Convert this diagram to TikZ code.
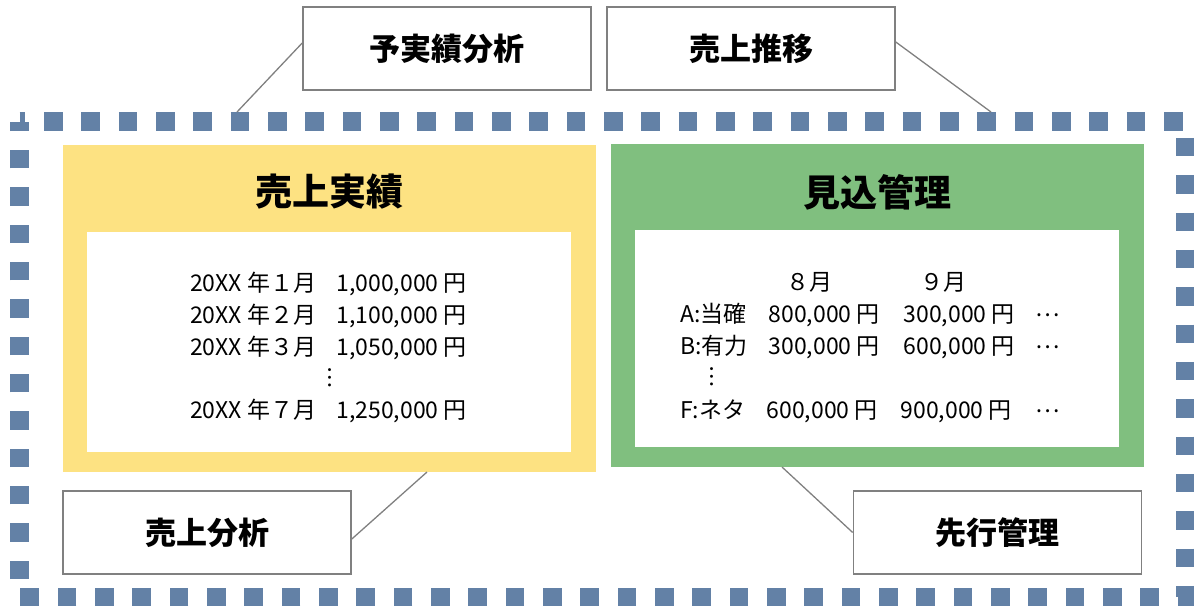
\documentclass[tikz,border=0pt]{standalone}
\usepackage{fontspec}
\newfontfamily\jpfont{Noto Sans CJK JP}
\usetikzlibrary{calc}

\definecolor{borderblue}{RGB}{99,129,166}
\definecolor{actualyellow}{RGB}{253,226,130}
\definecolor{forecastgreen}{RGB}{128,191,127}
\definecolor{calloutgray}{RGB}{128,128,128}

\begin{document}
\begin{tikzpicture}[x=1pt, y=-1pt,
    panel/.style={inner sep=0pt, minimum width=533pt, minimum height=327pt},
    sheet/.style={fill=white, inner sep=0pt, minimum width=484pt},
    callout/.style={draw=calloutgray, line width=1.6pt, fill=white, inner sep=0pt,
        minimum width=288pt, minimum height=83pt,
        font=\jpfont\bfseries\fontsize{31}{36}\selectfont},
    title/.style={inner sep=0pt, font=\jpfont\bfseries\fontsize{37}{42}\selectfont},
    entry/.style={inner sep=0pt, font=\jpfont\fontsize{23}{27}\selectfont},
    leader/.style={draw=calloutgray, line width=1.3pt}]

    \useasboundingbox (0,0) rectangle (1196,606);

    % Outer square-dotted frame
    \draw[borderblue, line width=18.6pt, dash pattern=on 18.6pt off 18.73pt, dash phase=12.7pt]
        (19.5,121.5) -- (1185,121.5) -- (1185,597) -- (19.5,597) -- cycle;

    % Panels
    \node[panel, fill=actualyellow] (actual) at (329.5,308.5) {};
    \node[panel, fill=forecastgreen, minimum height=323pt] (forecast) at (877.5,305.5) {};
    \node[sheet, minimum height=220pt] (actualsheet) at (329,342) {};
    \node[sheet, minimum height=217pt] (forecastsheet) at (877,338.5) {};

    \node[title] (actualtitle) at (329.5,192) {売上実績};
    \node[title] (forecasttitle) at (877.5,192) {見込管理};

    % Monthly sales
    \foreach \mon/\amt/\yy [count=\i] in {１/{1,000,000}/291.5, ２/{1,100,000}/323.5, ３/{1,050,000}/355.5, ７/{1,250,000}/418.5}
    {
        \node[entry, anchor=base west] (month\i) at (190,\yy) {20XX 年\mon 月};
        \node[entry, anchor=base east] (amount\i) at (467,\yy) {\amt\ 円};
    }
    \node[entry] (monthdots) at (330,378) {︙};

    % Prospects
    \node[entry, anchor=base] (augcol) at (809.5,290.5) {８月};
    \node[entry, anchor=base] (sepcol) at (943.5,290.5) {９月};
    \foreach \rank/\aug/\sep/\xa/\xs/\yy [count=\i] in {A:当確/{800,000}/{300,000}/880/1015/322.5,
        B:有力/{300,000}/{600,000}/880/1015/354.5, F:ネタ/{600,000}/{900,000}/878/1012/418.5}
    {
        \node[entry, anchor=base west] (rank\i) at (680,\yy) {\rank};
        \node[entry, anchor=base east] (aug\i) at (\xa,\yy) {\aug\ 円};
        \node[entry, anchor=base east] (sep\i) at (\xs,\yy) {\sep\ 円};
        \node[entry, anchor=base] (more\i) at (1048,\yy-6) {…};
    }
    \node[entry] (rankdots) at (712,377) {︙};

    % Hooks for the leaders
    \coordinate (planhook) at (237,112);
    \coordinate (trendhook) at (991,112);
    \coordinate (analysishook) at (427,472);
    \coordinate (leadhook) at (782,467);

    % Callouts
    \node[callout] (plan) at (447,48.5) {予実績分析};
    \node[callout] (trend) at (751,48.5) {売上推移};
    \node[callout] (analysis) at (207,532.5) {売上分析};
    \node[callout] (lead) at (997.5,532.5) {先行管理};

    \draw[leader] ($(plan.west)+(0,-5.5)$) -- (planhook);
    \draw[leader] ($(trend.east)+(0,-6.5)$) -- (trendhook);
    \draw[leader] ($(analysis.east)+(0,6.5)$) -- (analysishook);
    \draw[leader] (lead.west) -- (leadhook);

\end{tikzpicture}
\end{document}
